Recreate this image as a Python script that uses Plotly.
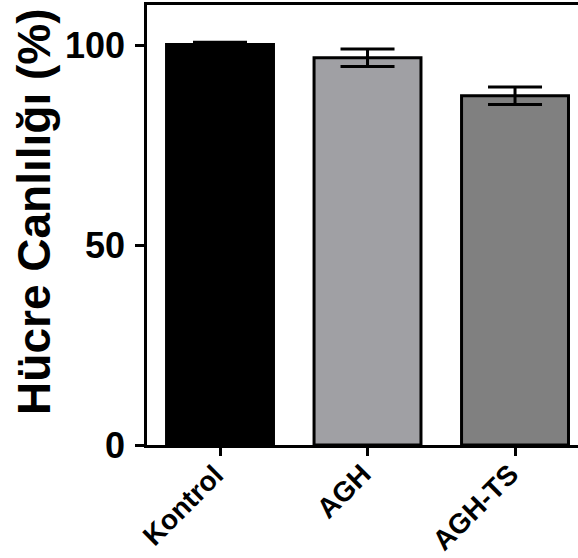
import plotly.graph_objects as go

categories = ["Kontrol", "AGH", "AGH-TS"]
values = [100.1, 96.8, 87.3]
errors = [0.6, 2.2, 2.2]
colors = ["#000000", "#a0a0a4", "#808080"]
y_ticks = [0, 50, 100]
y_title = "Hücre Canlılığı (%)"

FONT = "Arial, Liberation Sans, sans-serif"

fig = go.Figure()
fig.add_trace(go.Bar(
    x=list(range(len(categories))),
    y=values,
    width=0.725,
    marker=dict(color=colors, line=dict(color="#000000", width=3)),
    error_y=dict(type="data", array=errors, visible=True,
                 color="#000000", thickness=3, width=27),
))

annotations = [dict(
    text=y_title, textangle=-90, showarrow=False,
    xref="paper", yref="paper", x=-0.262, y=0.53,
    xanchor="center", yanchor="middle",
    font=dict(family=FONT, size=46, weight="bold", color="#000000"),
)]
for i, cat in enumerate(categories):
    annotations.append(dict(
        text=cat, textangle=-45, showarrow=False,
        xref="x", yref="paper", x=i, y=0,
        xanchor="right", yanchor="top", xshift=12, yshift=-11,
        font=dict(family=FONT, size=28, weight="bold", color="#000000"),
    ))

fig.update_layout(
    width=578, height=558,
    margin=dict(l=147, r=0, t=5, b=113, autoexpand=False),
    paper_bgcolor="white", plot_bgcolor="rgba(0,0,0,0)",
    showlegend=False,
    font=dict(family=FONT, color="#000000"),
    xaxis=dict(
        range=[-0.495, 2.427], automargin=False,
        tickmode="array", tickvals=list(range(len(categories))),
        ticktext=["" for _ in categories],
        ticks="outside", ticklen=8, tickwidth=2.5, tickcolor="#000000",
        showline=True, linecolor="#000000", linewidth=2.5, mirror=True,
        showgrid=False, zeroline=False,
    ),
    yaxis=dict(
        range=[0, 110], automargin=False,
        tickmode="array", tickvals=y_ticks, ticktext=[str(v) for v in y_ticks],
        tickfont=dict(family=FONT, size=36, weight="bold", color="#000000"),
        ticks="outside", ticklen=9, tickwidth=2.5, tickcolor="#000000",
        ticklabelstandoff=3,
        showline=True, linecolor="#000000", linewidth=2.5,
        showgrid=False, zeroline=False,
    ),
    annotations=annotations,
)

fig.write_html(
    "out.html",
    config={"displayModeBar": False},
    post_script="document.body.style.margin='0';document.body.style.overflow='hidden';",
)
